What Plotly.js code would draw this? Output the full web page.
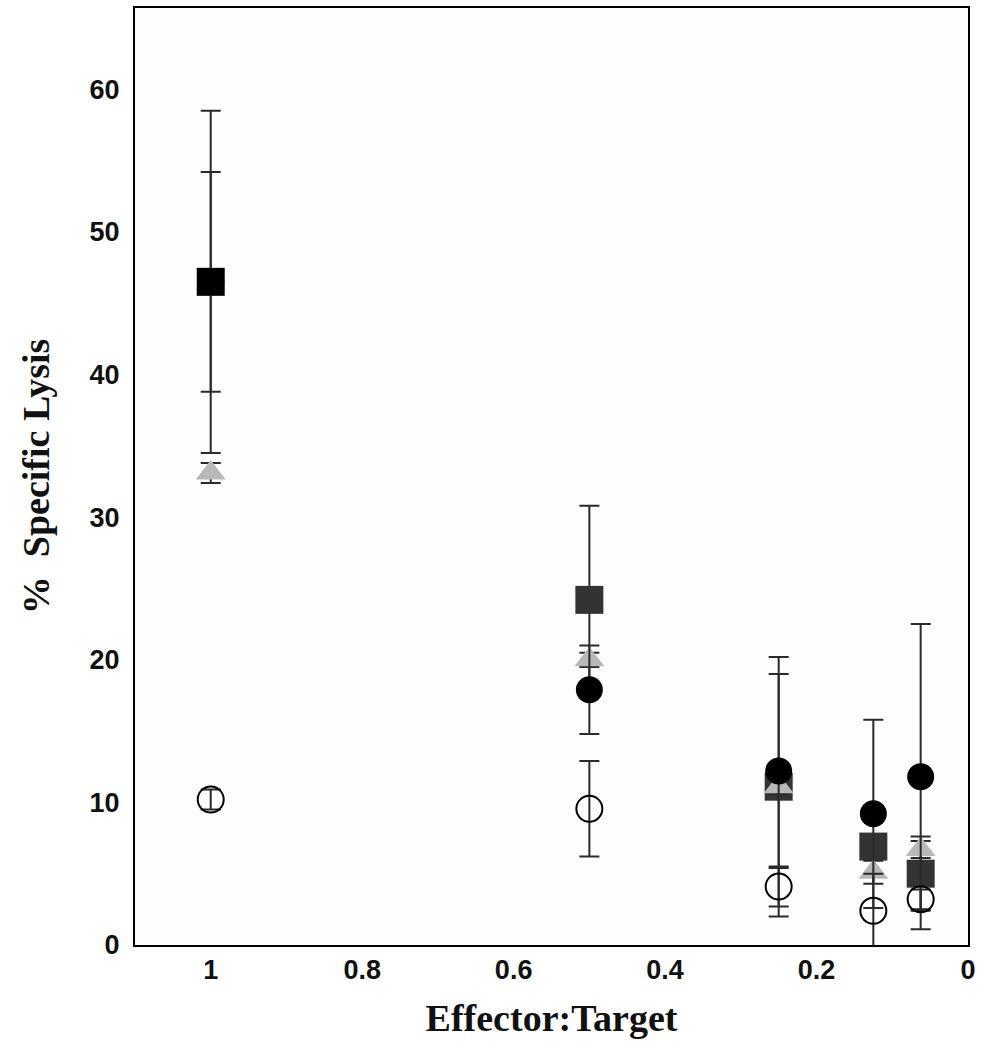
<!DOCTYPE html>
<html>
<head>
<meta charset="utf-8">
<script src="https://cdn.plot.ly/plotly-3.0.1.min.js"></script>
<style>html,body{margin:0;padding:0;background:#fff;}#chart{width:984px;height:1050px;}</style>
</head>
<body>
<div id="chart"></div>
<script>
// Effector:Target ratios
const ratios = [1, 0.5, 0.25, 0.125, 0.0625];

// Series: dark square
const squareY   = [46.5, 24.2, 11.1, 6.9, 5.0];
const squareErr = [12.0, 6.6, 9.1, 0.0, 2.6];
// Series: grey triangle
const triY   = [33.1, 20.0, 11.1, 5.1, 6.7];
const triErr = [0.7, 0.5, 0.5, 0.8, 0.6];
// Series: filled black circle
const circY   = [46.5, 17.9, 12.2, 9.2, 11.8];
const circErr = [7.7, 3.1, 6.8, 6.6, 10.7];
// Series: open circle
const openY   = [10.2, 9.55, 4.1, 2.4, 3.2];
const openErr = [0.7, 3.35, 1.4, 2.6, 0.7];

const yTicks = [0, 10, 20, 30, 40, 50, 60];
const xTicks = [1, 0.8, 0.6, 0.4, 0.2, 0];
const xTickText = ['1', '0.8', '0.6', '0.4', '0.2', '0'];

function eb(arr) {
  return {type: 'data', array: arr, visible: true, color: '#2a2a2a', thickness: 2, width: 10};
}

const traces = [
  {x: ratios, y: squareY, type: 'scatter', mode: 'markers', name: 'square',
   error_y: eb(squareErr),
   marker: {symbol: 'square', size: 28, color: ['#000', '#333', '#333', '#333', '#333']}},
  {x: ratios, y: triY, type: 'scatter', mode: 'markers', name: 'triangle',
   error_y: eb(triErr),
   marker: {symbol: 'triangle-up', size: 26, color: '#b8b8b8'}},
  {x: ratios, y: circY, type: 'scatter', mode: 'markers', name: 'filled circle',
   error_y: eb(circErr),
   marker: {symbol: 'circle', size: 27, color: '#000'}},
  {x: ratios, y: openY, type: 'scatter', mode: 'markers', name: 'open circle',
   error_y: eb(openErr),
   marker: {symbol: 'circle-open', size: 26, color: '#000', line: {width: 2, color: '#000'}}}
];

const tickFont = {family: '"Liberation Sans", Arial, sans-serif', size: 27, color: '#111', weight: 'bold'};
const titleFont = {family: '"Liberation Serif", "Times New Roman", serif', size: 38, color: '#111', weight: 'bold'};

const layout = {
  width: 984, height: 1050,
  margin: {l: 135, r: 16, t: 8, b: 105},
  paper_bgcolor: '#fff', plot_bgcolor: '#fdfdfd',
  showlegend: false,
  xaxis: {
    range: [1.1, 0], tickvals: xTicks, ticktext: xTickText,
    showgrid: false, zeroline: false, ticks: '',
    showline: true, mirror: true, linecolor: '#000', linewidth: 2,
    tickfont: tickFont,
    title: {text: 'Effector:Target', font: titleFont, standoff: 20}
  },
  yaxis: {
    range: [0, 65.7], tickvals: yTicks,
    showgrid: false, zeroline: false, ticks: '',
    showline: true, mirror: true, linecolor: '#000', linewidth: 2,
    tickfont: tickFont, ticklabelstandoff: 8,
    title: {text: '%  Specific Lysis', font: titleFont, standoff: 28}
  }
};

Plotly.newPlot('chart', traces, layout, {displayModeBar: false, staticPlot: true});
</script>
</body>
</html>
